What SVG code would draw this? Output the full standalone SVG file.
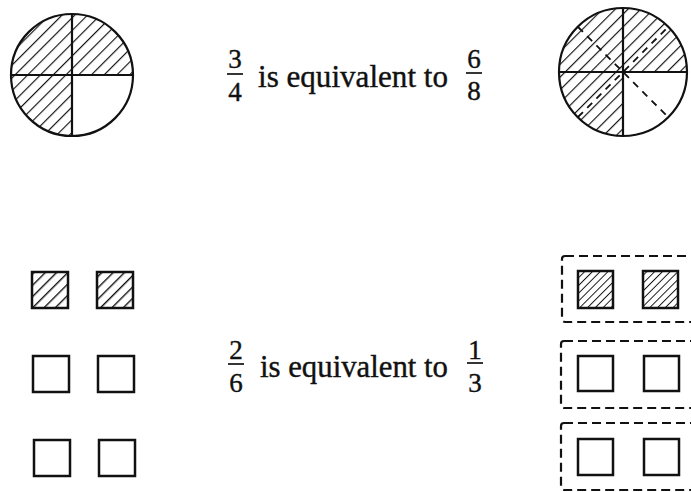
<svg xmlns="http://www.w3.org/2000/svg" width="691" height="492" viewBox="0 0 691 492">
  <defs>
    <pattern id="hatchC" patternUnits="userSpaceOnUse" width="9" height="10" patternTransform="rotate(45)">
      <line x1="0" y1="0" x2="0" y2="10" stroke="#111" stroke-width="2.3"/>
    </pattern>
    <pattern id="hatchS" patternUnits="userSpaceOnUse" width="8" height="10" patternTransform="rotate(45)">
      <line x1="0" y1="0" x2="0" y2="10" stroke="#111" stroke-width="2.8"/>
    </pattern>
    <pattern id="hatchS2" patternUnits="userSpaceOnUse" width="5.5" height="10" patternTransform="rotate(45)">
      <line x1="0" y1="0" x2="0" y2="10" stroke="#111" stroke-width="1.9"/>
    </pattern>
  </defs>
  <style>
    .ln { stroke: #111; stroke-width: 2.2; fill: none; }
    .sq { stroke: #111; stroke-width: 2.5; fill: #fff; }
    .sqh { stroke: #111; stroke-width: 2.5; fill: url(#hatchS); }
    .sqh2 { stroke: #111; stroke-width: 2.5; fill: url(#hatchS2); }
    .dbox { stroke: #111; stroke-width: 2.2; fill: none; stroke-dasharray: 9 5; }
    .dl { stroke: #111; stroke-width: 1.8; fill: none; stroke-dasharray: 7 6; }
    .hatch { fill: url(#hatchC); stroke: none; }
    .t { font-family: "Liberation Serif", "Times New Roman", serif; font-size: 32px; fill: #111; stroke: #111; stroke-width: 0.4; }
    .d { font-family: "Liberation Serif", "Times New Roman", serif; font-size: 27px; fill: #111; stroke: #111; stroke-width: 0.4; text-anchor: middle; }
    .bar { stroke: #111; stroke-width: 1.7; }
  </style>
  <rect width="691" height="492" fill="#fff"/>

  <g id="circle-3-4">
    <path class="hatch" d="M72,75 L72,136 A61,61 0 1 1 133,75 Z"/>
    <circle class="ln" cx="72" cy="75" r="61"/>
    <line class="ln" x1="11" y1="75" x2="133" y2="75"/>
    <line class="ln" x1="72" y1="14" x2="72" y2="136"/>
  </g>

  <g id="label-3-4">
    <text class="d" x="235" y="68">3</text>
    <line class="bar" x1="227" y1="74" x2="243" y2="74"/>
    <text class="d" x="235" y="101">4</text>
    <text class="t" x="258" y="87" textLength="190" lengthAdjust="spacingAndGlyphs">is equivalent to</text>
    <text class="d" x="474" y="68">6</text>
    <line class="bar" x1="466" y1="73" x2="482" y2="73"/>
    <text class="d" x="474" y="100">8</text>
  </g>

  <g id="circle-6-8">
    <path class="hatch" d="M623,72 L623,136 A64,64 0 1 1 687,72 Z"/>
    <circle class="ln" cx="623" cy="72" r="64"/>
    <line class="ln" x1="559" y1="72" x2="687" y2="72"/>
    <line class="ln" x1="623" y1="8" x2="623" y2="136"/>
    <line class="dl" x1="578" y1="27" x2="668" y2="117"/>
    <line class="dl" x1="578" y1="117" x2="668" y2="27"/>
  </g>

  <g id="squares-left">
    <rect class="sqh" x="32" y="272" width="36" height="36"/>
    <rect class="sqh" x="97" y="272" width="36" height="36"/>
    <rect class="sq" x="33" y="356" width="36" height="36"/>
    <rect class="sq" x="98" y="356" width="36" height="36"/>
    <rect class="sq" x="34" y="440" width="36" height="36"/>
    <rect class="sq" x="99" y="440" width="36" height="36"/>
  </g>

  <g id="label-2-6">
    <text class="d" x="236" y="359">2</text>
    <line class="bar" x1="228" y1="364" x2="244" y2="364"/>
    <text class="d" x="236" y="392">6</text>
    <text class="t" x="260" y="377" textLength="188" lengthAdjust="spacingAndGlyphs">is equivalent to</text>
    <text class="d" x="475" y="359">1</text>
    <line class="bar" x1="467" y1="363" x2="483" y2="363"/>
    <text class="d" x="475" y="392">3</text>
  </g>

  <g id="squares-right">
    <rect class="dbox" x="562" y="256" width="150" height="66" rx="3"/>
    <rect class="dbox" x="561" y="341" width="150" height="67" rx="3"/>
    <rect class="dbox" x="561" y="423" width="150" height="67" rx="3"/>
    <rect class="sqh2" x="578" y="271" width="35" height="37"/>
    <rect class="sqh2" x="643" y="271" width="35" height="37"/>
    <rect class="sq" x="578" y="356" width="35" height="35"/>
    <rect class="sq" x="644" y="356" width="35" height="35"/>
    <rect class="sq" x="578" y="439" width="35" height="36"/>
    <rect class="sq" x="644" y="439" width="35" height="36"/>
  </g>
</svg>
